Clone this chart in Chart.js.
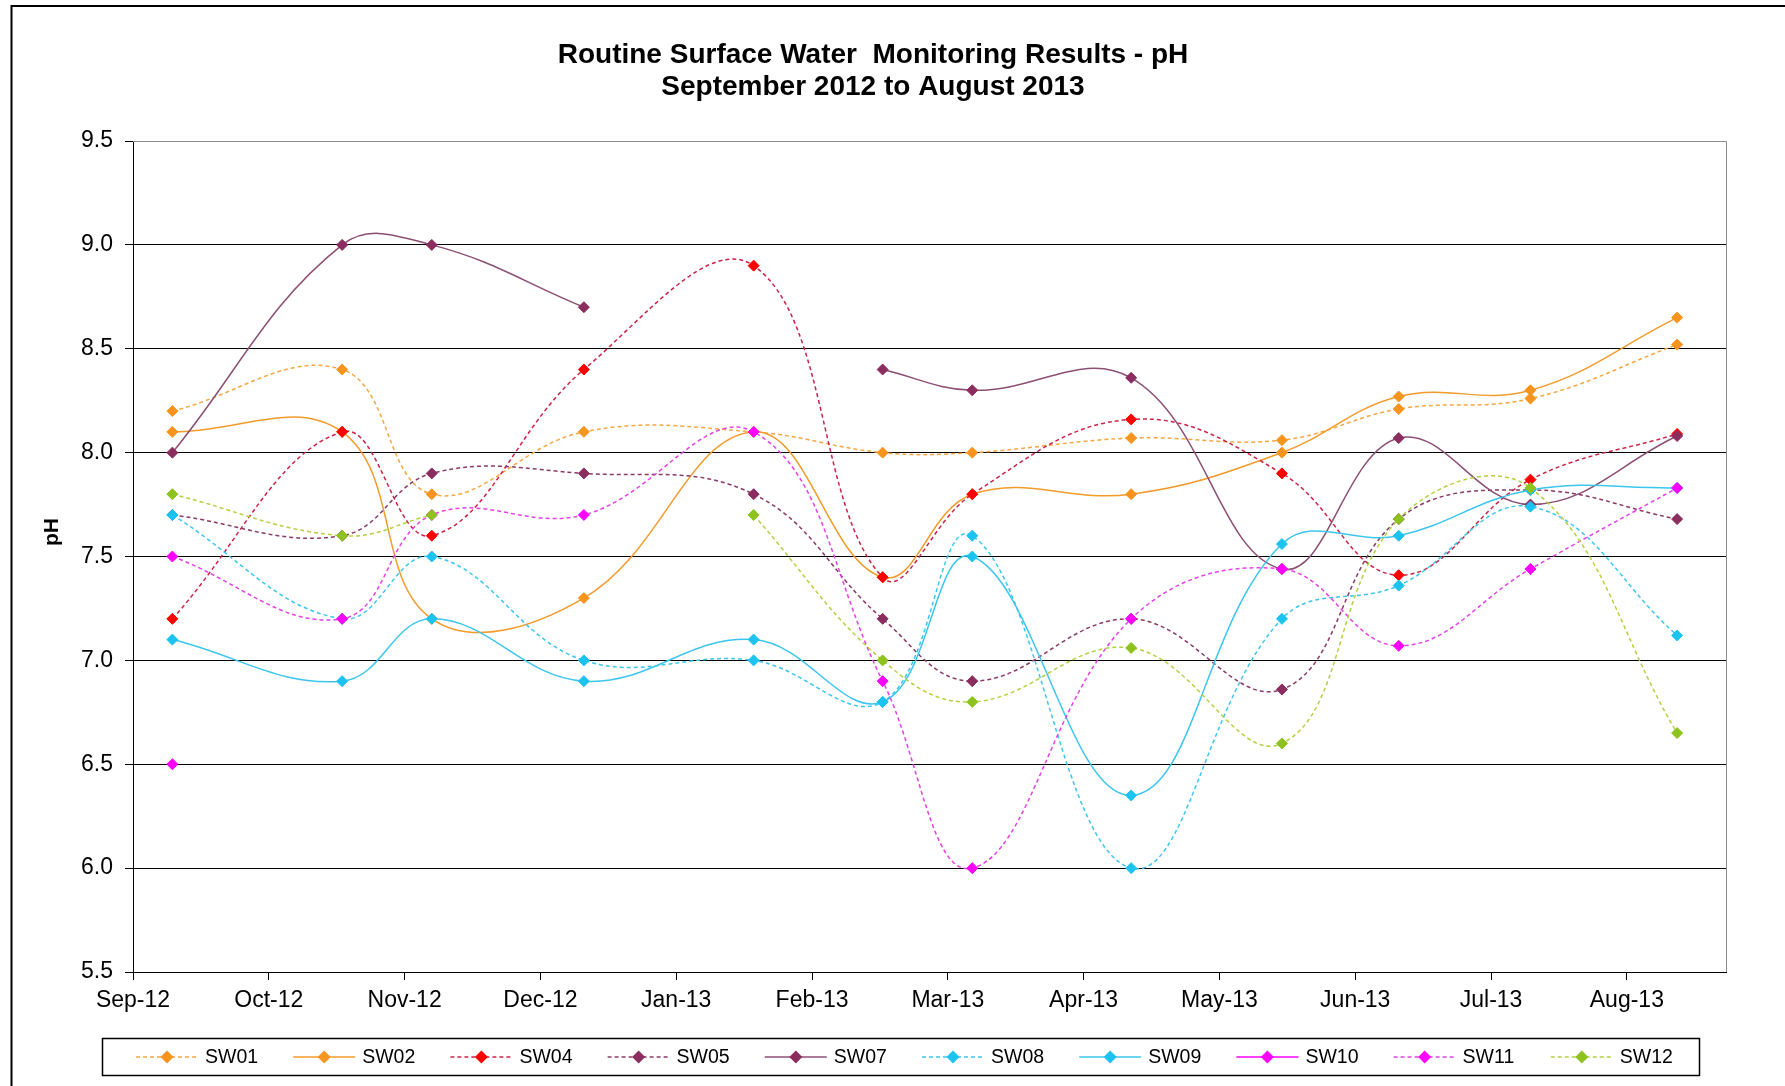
<!DOCTYPE html>
<html>
<head>
<meta charset="utf-8">
<title>Routine Surface Water Monitoring Results - pH</title>
<script src="https://cdn.jsdelivr.net/npm/chart.js@4.4.1/dist/chart.umd.min.js"></script>
<style>
  html, body { margin: 0; padding: 0; background: #fff; }
  #grafico { display: block; }
</style>
</head>
<body>
<canvas id="grafico" width="1785" height="1086"></canvas>
<script>
/* datos del grafico */
const titulo = ["Routine Surface Water  Monitoring Results - pH", "September 2012 to August 2013"];
const tituloEjeY = "pH";
const etiquetasMeses = ["Sep-12", "Oct-12", "Nov-12", "Dec-12", "Jan-13", "Feb-13",
                        "Mar-13", "Apr-13", "May-13", "Jun-13", "Jul-13", "Aug-13"];
const ticksY = [5.5, 6.0, 6.5, 7.0, 7.5, 8.0, 8.5, 9.0, 9.5];

// fecha de cada muestreo, en meses contados desde Sep-12
const muestreo = [0.29, 1.54, 2.20, 3.32, 4.57, 5.52, 6.18, 7.35, 8.46, 9.32, 10.29, 11.37];

const sw01 = [8.2, 8.4, 7.8, 8.1, 8.1, 8.0, 8.0, 8.07, 8.06, 8.21, 8.26, 8.52];
const sw02 = [8.1, 8.1, 7.2, 7.3, 8.1, 7.4, 7.8, 7.8, 8.0, 8.27, 8.3, 8.65];
const sw04 = [7.2, 8.1, 7.6, 8.4, 8.9, 7.4, 7.8, 8.16, 7.9, 7.41, 7.87, 8.09];
const sw05 = [7.7, 7.6, 7.9, 7.9, 7.8, 7.2, 6.9, 7.2, 6.86, 7.68, 7.82, 7.68];
const sw07 = [8.0, 9.0, 9.0, 8.7, null, 8.4, 8.3, 8.36, 7.44, 8.07, 7.75, 8.08];
const sw08 = [7.7, 7.2, 7.5, 7.0, 7.0, 6.8, 7.6, 6.0, 7.2, 7.36, 7.74, 7.12];
const sw09 = [7.1, 6.9, 7.2, 6.9, 7.1, 6.8, 7.5, 6.35, 7.56, 7.6, 7.82, 7.83];
const sw10 = [6.5, null, null, null, null, null, null, null, null, null, null, null];
const sw11 = [7.5, 7.2, 7.7, 7.7, 8.1, 6.9, 6.0, 7.2, 7.44, 7.07, 7.44, 7.83];
const sw12 = [7.8, 7.6, 7.7, null, 7.7, 7.0, 6.8, 7.06, 6.6, 7.68, 7.83, 6.65];

const fuente = '"Liberation Sans", Arial, sans-serif';

// estilo de cada estacion
const series = [
    { nombre: "SW01", valores: sw01, linea: "#F5A742", marca: "#F7941D", punteada: true },
    { nombre: "SW02", valores: sw02, linea: "#F29B2A", marca: "#F7941D", punteada: false },
    { nombre: "SW04", valores: sw04, linea: "#CC2248", marca: "#FF0000", punteada: true },
    { nombre: "SW05", valores: sw05, linea: "#8A3A66", marca: "#8B2D5F", punteada: true },
    { nombre: "SW07", valores: sw07, linea: "#8C4F74", marca: "#8B2D5F", punteada: false },
    { nombre: "SW08", valores: sw08, linea: "#3CC6EE", marca: "#1CC3F0", punteada: true },
    { nombre: "SW09", valores: sw09, linea: "#3CC6EE", marca: "#1CC3F0", punteada: false },
    { nombre: "SW10", valores: sw10, linea: "#FF00FF", marca: "#FF00FF", punteada: false },
    { nombre: "SW11", valores: sw11, linea: "#E640E6", marca: "#FF00FF", punteada: true },
    { nombre: "SW12", valores: sw12, linea: "#B2D23E", marca: "#8DC21F", punteada: true }
];

function crearDatasets() {
    return series.map((s, i) => {
        return {
            label: s.nombre,
            data: s.valores.map((v, j) => ({ x: muestreo[j], y: v })),
            borderColor: s.linea,
            backgroundColor: s.marca,
            pointBackgroundColor: s.marca,
            pointBorderColor: s.marca,
            pointStyle: "rectRot",
            pointRadius: 5.5,
            pointBorderWidth: 1,
            borderWidth: 1.5,
            borderDash: s.punteada ? [4, 3] : [],
            tension: 0.4,
            spanGaps: false,
            // la ultima serie queda encima, como en Excel
            order: -i
        };
    });
}

function dibujarRombo(ctx, x, y, r, color) {
    ctx.beginPath();
    ctx.moveTo(x, y - r);
    ctx.lineTo(x + r, y);
    ctx.lineTo(x, y + r);
    ctx.lineTo(x - r, y);
    ctx.closePath();
    ctx.fillStyle = color;
    ctx.fill();
}

// marco, titulo y leyenda al estilo Excel
const marcoExcel = {
    id: "marcoExcel",
    beforeDraw(chart) {
        const ctx = chart.ctx;
        ctx.save();
        ctx.fillStyle = "#fff";
        ctx.fillRect(0, 0, chart.width, chart.height);
        ctx.strokeStyle = "#000";
        ctx.lineWidth = 2;
        ctx.strokeRect(11.5, 6, chart.width + 40, chart.height + 40);
        ctx.restore();
    },
    beforeDatasetsDraw(chart) {
        const { ctx, chartArea } = chart;
        ctx.save();
        ctx.strokeStyle = "#8c8c8c";
        ctx.lineWidth = 1;
        ctx.beginPath();
        ctx.moveTo(chartArea.left, chartArea.top + 0.5);
        ctx.lineTo(chartArea.right + 0.5, chartArea.top + 0.5);
        ctx.lineTo(chartArea.right + 0.5, chartArea.bottom);
        ctx.stroke();
        ctx.restore();
    },
    afterDraw(chart) {
        const ctx = chart.ctx;
        ctx.save();

        // titulo
        ctx.fillStyle = "#000";
        ctx.font = "bold 28px " + fuente;
        ctx.textAlign = "center";
        ctx.textBaseline = "alphabetic";
        ctx.fillText(titulo[0], 873, 63);
        ctx.fillText(titulo[1], 873, 95);

        // titulo del eje y
        ctx.save();
        ctx.translate(52, 532);
        ctx.rotate(-Math.PI / 2);
        ctx.font = "bold 21px " + fuente;
        ctx.textBaseline = "middle";
        ctx.fillText(tituloEjeY, 0, 0);
        ctx.restore();

        // leyenda
        ctx.strokeStyle = "#000";
        ctx.lineWidth = 1.5;
        ctx.strokeRect(102.5, 1038.5, 1597, 37);
        const yc = 1057;
        ctx.font = "19.5px " + fuente;
        ctx.textAlign = "left";
        ctx.textBaseline = "middle";
        chart.data.datasets.forEach((ds, i) => {
            const x0 = 136 + i * 157.2;
            ctx.strokeStyle = ds.borderColor;
            ctx.lineWidth = 1.5;
            ctx.setLineDash(ds.borderDash);
            ctx.beginPath();
            ctx.moveTo(x0, yc);
            ctx.lineTo(x0 + 62, yc);
            ctx.stroke();
            ctx.setLineDash([]);
            dibujarRombo(ctx, x0 + 31, yc, 6.5, ds.pointBackgroundColor);
            ctx.fillStyle = "#000";
            ctx.fillText(ds.label, x0 + 69, yc + 1);
        });

        ctx.restore();
    }
};

function cargarGrafico() {
    const chartDOM = document.getElementById("grafico");
    const config = {
        type: "line",
        data: { datasets: crearDatasets() },
        options: {
            responsive: false,
            animation: false,
            devicePixelRatio: 1,
            layout: { padding: { top: 141, right: 59, bottom: 0, left: 0 } },
            plugins: {
                legend: { display: false },
                title: { display: false },
                tooltip: { enabled: false }
            },
            scales: {
                x: {
                    type: "linear",
                    min: 0,
                    max: 11.73,
                    afterBuildTicks(scale) {
                        scale.ticks = etiquetasMeses.map((_, i) => ({ value: i }));
                    },
                    afterFit(scale) {
                        scale.height = 114;
                    },
                    ticks: {
                        autoSkip: false,
                        maxRotation: 0,
                        padding: 7,
                        color: "#000",
                        font: { family: fuente, size: 23 },
                        callback: (v) => etiquetasMeses[v] ?? ""
                    },
                    grid: {
                        drawOnChartArea: false,
                        drawTicks: true,
                        tickLength: 8,
                        color: "#000"
                    },
                    border: { color: "#000", width: 1 }
                },
                y: {
                    min: 5.5,
                    max: 9.5,
                    afterBuildTicks(scale) {
                        scale.ticks = ticksY.map((v) => ({ value: v }));
                    },
                    afterFit(scale) {
                        scale.width = 133;
                    },
                    ticks: {
                        padding: 12,
                        color: "#000",
                        font: { family: fuente, size: 23 },
                        callback: (v) => Number(v).toFixed(1)
                    },
                    grid: {
                        drawTicks: true,
                        tickLength: 8,
                        tickColor: "#000",
                        color: (c) => (c.tick && c.tick.value === 9.5 ? "#8c8c8c" : "#000"),
                        lineWidth: 1
                    },
                    border: { color: "#000", width: 1 }
                }
            }
        },
        plugins: [marcoExcel]
    };
    new Chart(chartDOM, config);
}

cargarGrafico();
</script>
</body>
</html>
